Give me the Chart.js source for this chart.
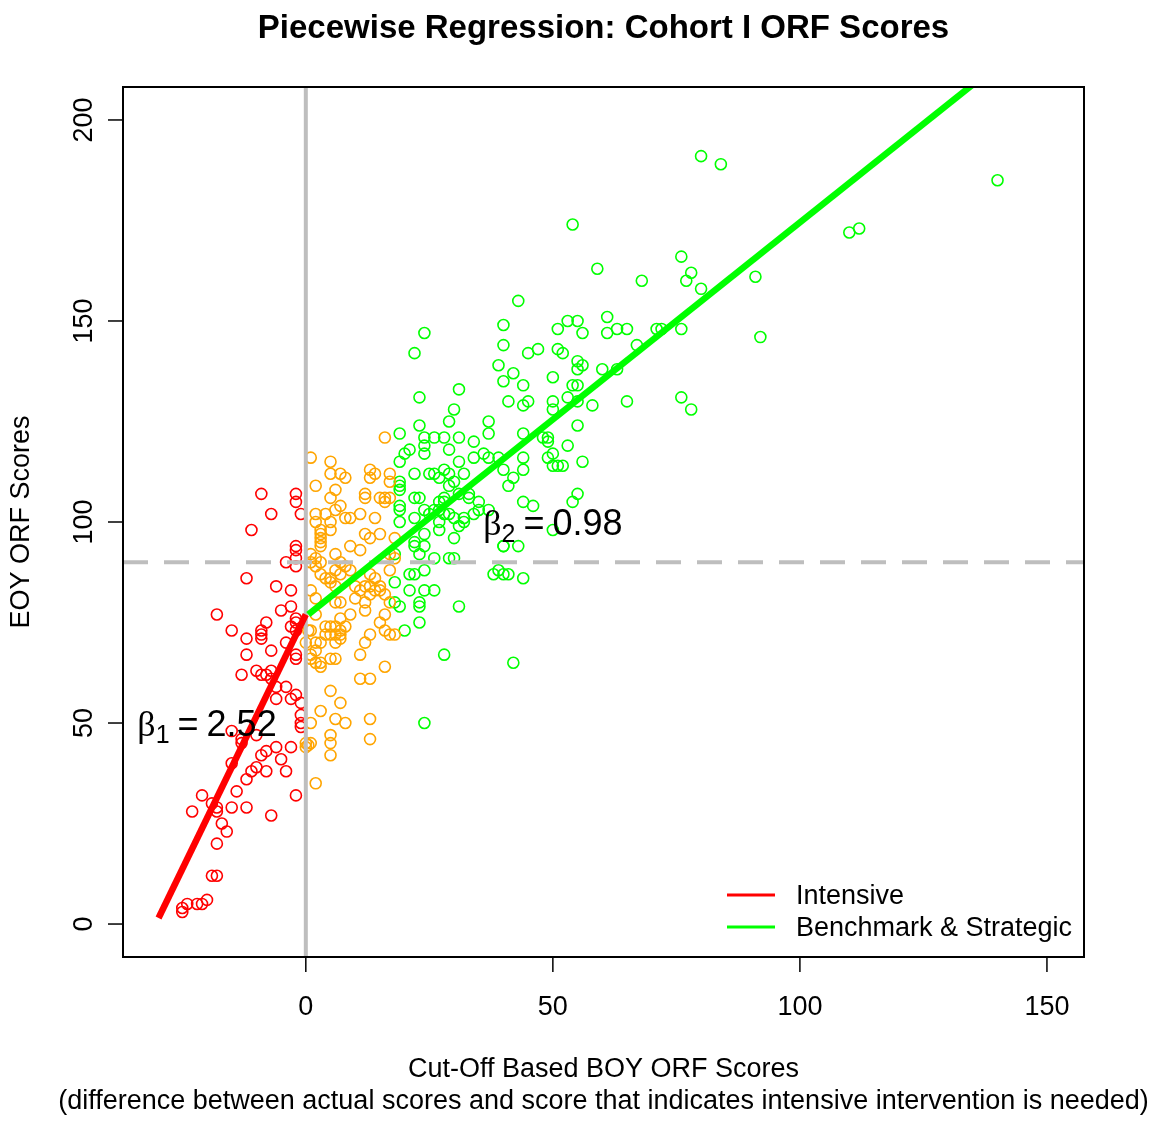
<!DOCTYPE html>
<html>
<head>
<meta charset="utf-8">
<script src="https://cdn.jsdelivr.net/npm/chart.js@4/dist/chart.umd.min.js"></script>
<style>
  html, body { margin: 0; padding: 0; background: #ffffff; }
  #wrap { width: 1152px; height: 1121px; }
</style>
</head>
<body>
<div id="wrap"><canvas id="c" width="1152" height="1121"></canvas></div>
<script>
// ---------------- DATA ----------------
const chartTitle = "Piecewise Regression: Cohort I ORF Scores";
const xTitleLines = ["Cut-Off Based BOY ORF Scores",
  "(difference between actual scores and score that indicates intensive intervention is needed)"];
const yTitle = "EOY ORF Scores";
const xTicks = [0, 50, 100, 150];
const yTicks = [0, 50, 100, 150, 200];
const xRange = [-37, 157.5];
const yRange = [-8.2, 208.2];

// Intensive group (red)
const intensivePts = [
  [-9,107],[-2,107],[-2,105],[-7,102],[-1,102],[-11,98],[-2,94],[-2,93],[-4,90],[-2,91],[-2,89],
  [-12,86],[-6,84],[-3,83],[-18,77],[-5,78],[-3,79],[-2,76],[-15,73],[-12,71],[-8,75],[-9,73],
  [-9,72],[-9,71],[-4,70],[-2,75],[-2,73],[-3,74],[-7,68],[-12,67],[-2,67],[-2,66],[-13,62],
  [-10,63],[-9,62],[-8,62],[-7,63],[-7,61],[-4,59],[-6,59],[-2,57],[-3,56],[-1,55],[-6,56],
  [-1,52],[-1,50],[-1,49],[-15,48],[-13,46],[-13,45],[-10,47],[-6,44],[-8,43],[-9,42],[-5,41],
  [-3,44],[-15,40],[-10,39],[-11,38],[-12,36],[-8,38],[-4,38],[-14,33],[-21,32],[-19,30],
  [-18,29],[-18,28],[-15,29],[-12,29],[-2,32],[-23,28],[-7,27],[-17,25],[-16,23],[-18,20],
  [-19,12],[-18,12],[-25,4],[-25,3],[-24,5],[-22,5],[-21,5],[-20,6]
];
// Strategic group (orange)
const strategicPts = [
  [1,116],[5,115],[2,109],[6,108],[5,112],[7,112],[8,111],[5,106],[6,103],[4,102],[5,100],
  [2,102],[2,100],[3,98],[3,97],[3,96],[5,98],[3,95],[3,94],[7,104],[8,101],[9,101],[11,102],
  [14,101],[12,107],[12,106],[13,113],[14,112],[13,111],[15,106],[16,105],[16,106],[12,97],
  [13,96],[15,97],[9,94],[11,93],[6,92],[7,90],[8,89],[1,92],[2,91],[2,89],[1,90],[3,90],
  [4,86],[5,86],[5,85],[6,88],[7,87],[6,84],[9,88],[10,84],[11,83],[12,84],[13,87],[14,86],
  [13,84],[14,83],[13,82],[15,84],[15,83],[16,82],[6,80],[7,80],[9,77],[1,83],[2,81],[3,87],
  [10,81],[12,80],[16,77],[17,92],[18,91],[18,96],[2,77],[4,74],[5,74],[6,74],[7,73],[8,74],
  [4,72],[5,72],[6,72],[7,72],[7,71],[6,70],[1,73],[2,70],[3,70],[2,68],[2,65],[3,64],[3,65],
  [1,67],[1,66],[5,66],[6,66],[11,67],[12,70],[13,72],[15,75],[16,73],[17,72],[16,64],
  [11,61],[13,61],[5,58],[7,55],[3,53],[6,51],[8,50],[13,51],[1,50],[5,47],[5,45],[13,46],
  [5,42],[0,45],[0.5,44.5],[1,45],[0,44],[2,35],[0.5,73],[0,70],[12,78],[7,76],[16,121],
  [17,112],[17,110],[17,106],[17,88],[18,72],[17,80]
];
// Benchmark group (green)
const benchmarkPts = [
  [23,124],[29,125],[37,125],[19,122],[24,121],[26,121],[28,121],[31,121],[24,119],[24,117],
  [21,118],[20,117],[29,118],[34,120],[37,122],[36,117],[37,116],[34,116],[31,115],[19,115],
  [22,112],[25,112],[26,112],[28,113],[29,112],[27,111],[30,110],[29,109],[32,112],[19,110],
  [19,109],[19,108],[33,107],[31,107],[28,106],[27,105],[28,105],[22,106],[23,106],[33,106],
  [35,105],[35,103],[24,103],[25,102],[26,103],[19,104],[19,103],[19,100],[27,103],[28,102],
  [29,102],[27,100],[30,101],[22,101],[32,101],[32,100],[31,99],[34,102],[27,98],[24,97],
  [30,96],[22,95],[22,94],[24,94],[23,92],[18,92],[26,91],[29,91],[30,91],[21,87],[22,87],
  [24,88],[39,88],[40,87],[40,94],[18,85],[21,83],[24,83],[26,83],[18,80],[19,79],[23,80],
  [23,79],[31,79],[23,75],[20,73],[28,67],[24,50],[42,65],
  [43,155],[40,149],[40,144],[39,139],[42,137],[40,135],[44,134],[41,130],[44,129],[45,130],
  [44,122],[45,142],[47,143],[51,148],[53,150],[55,150],[56,147],[51,143],[52,142],[50,136],
  [55,140],[55,138],[56,139],[54,134],[55,134],[53,131],[50,130],[50,128],[55,130],[58,129],
  [60,138],[63,138],[61,151],[61,147],[63,148],[65,148],[67,144],[65,130],[55,124],[48,121],
  [49,120],[49,121],[53,119],[50,117],[49,116],[50,114],[51,114],[52,114],[56,115],[44,116],
  [44,113],[39,116],[40,113],[42,111],[41,109],[44,105],[46,104],[54,105],[55,107],[50,98],
  [40,94],[43,94],[38,87],[41,87],[44,86],[37,103],
  [24,147],[22,142],[23,131],[31,133],[30,128],
  [54,174],[59,163],[68,160],[76,166],[78,162],[77,160],[80,158],[71,148],[72,148],[76,148],
  [76,131],[78,128],
  [80,191],[84,189],[140,185],[110,172],[112,173],[91,161],[92,146]
];

// Regression segments
const intensiveLine = [[-29.8, 1.5], [0, 77]];
const benchmarkLine = [[0.5, 77], [136, 209.8]];
const cutX = 0;      // vertical reference (cut-off)
const cutY = 90;     // horizontal reference (EOY benchmark)
const legendLabels = ["Intensive", "Benchmark & Strategic"];
const slopeLabels = [
  { sub: "1", value: "2.52", at: [-20, 50] },
  { sub: "2", value: "0.98", at: [50, 100] }
];

// ---------------- CHART ----------------
const RED = "#FF0000", ORANGE = "#FFA500", GREEN = "#00FF00", GRAY = "#BEBEBE";
const toXY = arr => arr.map(p => ({ x: p[0], y: p[1] }));
const SANS = '"Liberation Sans", Arial, sans-serif';

const ptStyle = c => ({
  borderColor: c, backgroundColor: "rgba(0,0,0,0)", pointRadius: 5.5, pointBorderWidth: 1.6,
  pointHoverRadius: 5.5, showLine: false, order: 3
});

const decor = {
  id: "decor",
  afterDraw(chart) {
    const ctx = chart.ctx, a = chart.chartArea, xs = chart.scales.x, ys = chart.scales.y;
    ctx.save();
    ctx.fillStyle = "#000"; ctx.strokeStyle = "#000";
    // frame
    ctx.lineWidth = 2;
    ctx.strokeRect(a.left, a.top, a.right - a.left, a.bottom - a.top);
    // ticks
    ctx.lineWidth = 1.5;
    ctx.font = "27px " + SANS;
    ctx.textAlign = "center"; ctx.textBaseline = "middle";
    xTicks.forEach(v => {
      const px = xs.getPixelForValue(v);
      ctx.beginPath(); ctx.moveTo(px, a.bottom); ctx.lineTo(px, a.bottom + 15); ctx.stroke();
      ctx.fillText(String(v), px, a.bottom + 51);
    });
    yTicks.forEach(v => {
      const py = ys.getPixelForValue(v);
      ctx.beginPath(); ctx.moveTo(a.left, py); ctx.lineTo(a.left - 15, py); ctx.stroke();
      ctx.save(); ctx.translate(a.left - 38, py); ctx.rotate(-Math.PI / 2);
      ctx.fillText(String(v), 0, 0); ctx.restore();
    });
    // axis titles
    const cx = (a.left + a.right) / 2;
    ctx.fillText(xTitleLines[0], cx, 1070);
    ctx.fillText(xTitleLines[1], cx, 1102);
    ctx.save(); ctx.translate(22, (a.top + a.bottom) / 2); ctx.rotate(-Math.PI / 2);
    ctx.fillText(yTitle, 0, 0); ctx.restore();
    // title
    ctx.font = "bold 33px " + SANS;
    ctx.fillText(chartTitle, cx, 29);
    // legend
    const legColors = [RED, GREEN];
    ctx.font = "27px " + SANS; ctx.textAlign = "left";
    legendLabels.forEach((t, i) => {
      const ly = 895 + i * 32;
      ctx.strokeStyle = legColors[i]; ctx.lineWidth = 3;
      ctx.beginPath(); ctx.moveTo(727, ly); ctx.lineTo(775, ly); ctx.stroke();
      ctx.fillStyle = "#000"; ctx.fillText(t, 796, ly + 2);
    });
    // slope annotations
    slopeLabels.forEach(s => {
      const px = xs.getPixelForValue(s.at[0]), py = ys.getPixelForValue(s.at[1]);
      const fBeta = '36px "Liberation Serif", "DejaVu Serif", serif';
      const fMain = "36px " + SANS, fSub = "25px " + SANS;
      ctx.textBaseline = "alphabetic"; ctx.textAlign = "left";
      ctx.font = fBeta; const wb = ctx.measureText("β").width;
      ctx.font = fSub; const ws = ctx.measureText(s.sub).width;
      ctx.font = fMain; const we = ctx.measureText("=").width, wv = ctx.measureText(s.value).width;
      const gap = 8;
      const total = wb + ws + gap + we + gap + wv;
      let x0 = px - total / 2;
      const base = py + 13;
      ctx.fillStyle = "#000";
      ctx.font = fBeta; ctx.fillText("β", x0, base); x0 += wb;
      ctx.font = fSub; ctx.fillText(s.sub, x0, base + 7); x0 += ws + gap;
      ctx.font = fMain; ctx.fillText("=", x0, base); x0 += we + gap;
      ctx.fillText(s.value, x0, base);
    });
    ctx.restore();
  }
};

new Chart(document.getElementById("c"), {
  type: "scatter",
  data: {
    datasets: [
      Object.assign({ label: "Intensive pts", data: toXY(intensivePts) }, ptStyle(RED)),
      Object.assign({ label: "Strategic pts", data: toXY(strategicPts) }, ptStyle(ORANGE)),
      Object.assign({ label: "Benchmark pts", data: toXY(benchmarkPts) }, ptStyle(GREEN)),
      { label: "cutX", data: [{ x: cutX, y: yRange[0] }, { x: cutX, y: yRange[1] }],
        showLine: true, borderColor: GRAY, borderWidth: 4, pointRadius: 0, order: 2 },
      { label: "cutY", data: [{ x: xRange[0], y: cutY }, { x: xRange[1], y: cutY }],
        showLine: true, borderColor: GRAY, borderWidth: 4, borderDash: [25, 16], pointRadius: 0, order: 2 },
      { label: "Intensive", data: toXY(intensiveLine), showLine: true, borderColor: RED,
        borderWidth: 6.5, pointRadius: 0, borderCapStyle: "butt", order: 1 },
      { label: "Benchmark & Strategic", data: toXY(benchmarkLine), showLine: true, borderColor: GREEN,
        borderWidth: 6.5, pointRadius: 0, borderCapStyle: "butt", order: 1 }
    ]
  },
  options: {
    responsive: false,
    animation: false,
    devicePixelRatio: 1,
    layout: { padding: { left: 123, top: 87, right: 68, bottom: 164 } },
    scales: {
      x: { type: "linear", min: xRange[0], max: xRange[1], display: false },
      y: { type: "linear", min: yRange[0], max: yRange[1], display: false }
    },
    plugins: { legend: { display: false }, tooltip: { enabled: false }, title: { display: false } }
  },
  plugins: [decor]
});
</script>
</body>
</html>
